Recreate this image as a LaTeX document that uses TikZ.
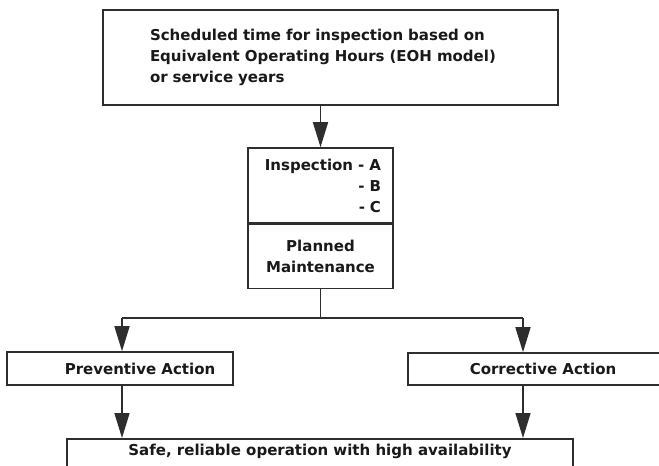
\documentclass[tikz,border=0pt]{standalone}
\usepackage{fontspec}
\setmainfont{DejaVu Sans}
\usepackage{tikz}
\usetikzlibrary{arrows.meta, positioning, calc}
\definecolor{lineGray}{HTML}{2E2E2E}

\begin{document}
\begin{tikzpicture}[x=1pt, y=-1pt,
  box/.style={draw=lineGray, line width=1.6pt, fill=white, inner sep=0pt,
              font=\bfseries\fontsize{15}{21}\selectfont, text=black!90},
  arr/.style={-{Triangle[length=25pt, width=15pt]}, draw=lineGray, fill=lineGray,
              line width=1.6pt}
]
  \useasboundingbox (0,0) rectangle (659,466);
  \node[box, minimum width=455pt, minimum height=95pt, text width=361pt,
        align=left] (sched) at (330.5,57.5)
    {Scheduled time for inspection based on\\
     Equivalent Operating Hours (EOH model)\\
     or service years};
  \node[box, minimum width=145pt, minimum height=75pt, text width=121pt,
        align=right] (insp) at (320.5,185.5)
    {Inspection - A\\ - B\\ - C};
  \node[box, minimum width=145pt, minimum height=64pt, align=center,
        below=0pt of insp] (plan) {Planned\\ Maintenance};
  \node[box, minimum width=226pt, minimum height=33pt] (prev) at (120,368.5)
    {\hspace*{40pt}Preventive Action};
  \node[box, minimum width=254pt, minimum height=32pt] (corr) at (535,369)
    {\hspace*{16pt}Corrective Action};
  \node[box, anchor=north, minimum width=506pt, inner ysep=6pt, text height=11pt,
        text depth=30pt] (safe) at (320,438)
    {Safe, reliable operation with high availability};
  \coordinate (ljoin) at (122,318);
  \coordinate (rjoin) at (523,318);
  \draw[arr] (insp.north |- sched.south) -- (insp.north);
  \draw[draw=lineGray, line width=1.6pt] (plan.south) -- (plan.south |- ljoin)
    (ljoin) -- (rjoin);
  \draw[arr] (ljoin) -- (ljoin |- prev.north);
  \draw[arr] (rjoin) -- (rjoin |- corr.north);
  \draw[arr] (ljoin |- prev.south) -- (ljoin |- safe.north);
  \draw[arr] (rjoin |- corr.south) -- (rjoin |- safe.north);
\end{tikzpicture}
\end{document}
